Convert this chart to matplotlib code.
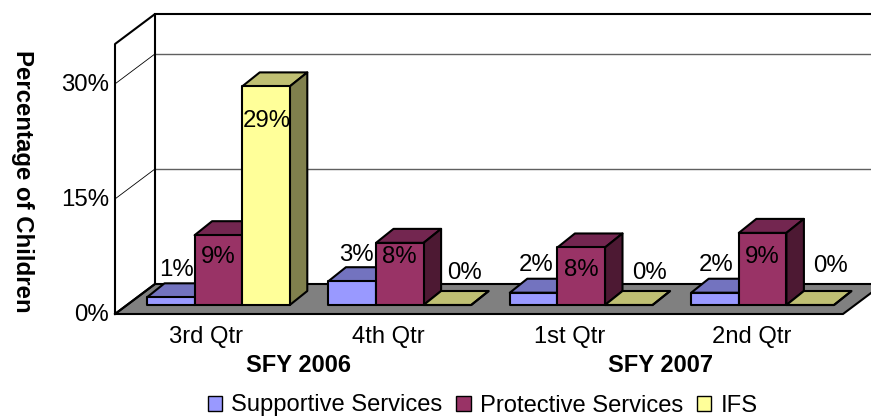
import matplotlib
matplotlib.use('Agg')
import matplotlib.pyplot as plt
from matplotlib.patches import Polygon, Patch

plt.rcParams['font.family'] = ['Liberation Sans', 'DejaVu Sans']

# Data
quarters = ['3rd Qtr', '4th Qtr', '1st Qtr', '2nd Qtr']
series = ['Supportive Services', 'Protective Services', 'IFS']
supportive = [1.0, 3.1, 1.6, 1.6]
protective = [9.1, 8.1, 7.5, 9.4]
ifs = [28.5, 0, 0, 0]
labels_sup = ['1%', '3%', '2%', '2%']
labels_pro = ['9%', '8%', '8%', '9%']
labels_ifs = ['29%', '0%', '0%', '0%']
yticks = [0, 15, 30]
years = ['SFY 2006', 'SFY 2007']

# label offsets from the middle of each bar's front top edge, in pixels
nudge_sup = [(6, 27), (4, 26), (3, 28), (1, 28)]
nudge_pro = [(0, -22), (0, -14), (0, -23), (0, -24)]
nudge_ifs = [(1, -35), (17, 32), (21, 32), (20, 39)]

colors = [('#9999FF', '#7373BF', '#4D4D80'),
          ('#993366', '#732650', '#4D1933'),
          ('#FFFF99', '#BFBF73', '#80804D')]

# pixel scale of the fake 3d box
W, H = 871, 416
PX_X = 182.0      # pixels per category
PX_Y = 7.67       # pixels per percent
X0, Y0 = 115, 314 # front left corner of the floor
DX, DY = 40 / PX_X, 30 / PX_Y  # depth of the box
TOP = 35.2

fig = plt.figure(figsize=(W / 100, H / 100), dpi=100)
ax = fig.add_axes([0, 0, 1, 1])
ax.set_xlim(-X0 / PX_X, (W - X0) / PX_X)
ax.set_ylim((Y0 - H) / PX_Y, Y0 / PX_Y)
ax.axis('off')

LW = 1.5
EC = 'black'
FS = 17.3

# floor
ax.add_patch(Polygon([(0, 0), (DX, DY), (4 + DX, DY), (4, 0)], closed=True,
                     fc='#808080', ec=EC, lw=LW, zorder=1))
# walls
ax.plot([0, 0, DX, DX, 0], [0, TOP, TOP + DY, DY, 0], color=EC, lw=LW, zorder=2)
ax.plot([DX, 4.5], [TOP + DY, TOP + DY], color=EC, lw=LW, zorder=2)
for t in yticks[1:]:
    ax.plot([DX, 4.5], [t + DY, t + DY], color='#606060', lw=1.0, zorder=1.5)
    ax.plot([0, DX], [t, t + DY], color=EC, lw=0.6, zorder=1.5)
for t in yticks:
    ax.text(-6 / PX_X, t - 0.2 if t else -0.1, '%d%%' % t, ha='right', va='center', fontsize=FS)

# bars
bar_w = 47.6 / PX_X
bar_dx, bar_dy = 17.5 / PX_X, 14 / PX_Y
shift_x, base = 32 / PX_X, 9 / PX_Y
values = [supportive, protective, ifs]
texts = [labels_sup, labels_pro, labels_ifs]
nudges = [nudge_sup, nudge_pro, nudge_ifs]
z = 3
for q in range(len(quarters)):
    for s in range(3):
        left = q * 181.4 / PX_X + shift_x + s * bar_w
        right = left + bar_w
        top = base + values[s][q]
        front, lid, side = colors[s]
        ax.add_patch(Polygon([(left, top), (left + bar_dx, top + bar_dy),
                              (right + bar_dx, top + bar_dy), (right, top)],
                             closed=True, fc=lid, ec=EC, lw=LW, zorder=z, joinstyle='round'))
        ax.add_patch(Polygon([(right, base), (right + bar_dx, base + bar_dy),
                              (right + bar_dx, top + bar_dy), (right, top)],
                             closed=True, fc=side, ec=EC, lw=LW, zorder=z, joinstyle='round'))
        ax.add_patch(Polygon([(left, base), (left, top), (right, top), (right, base)],
                             closed=True, fc=front, ec=EC, lw=LW, zorder=z, joinstyle='round'))
        z += 1
for q in range(len(quarters)):
    for s in range(3):
        left = q * 181.4 / PX_X + shift_x + s * bar_w
        ax.annotate(texts[s][q], (left + bar_w / 2, base + values[s][q]),
                    xytext=(nudges[s][q][0] * 0.72, nudges[s][q][1] * 0.72),
                    textcoords='offset points', ha='center', va='center',
                    fontsize=FS, zorder=50)

# category and year labels
for q, name in enumerate(quarters):
    ax.text(q + 0.5, -22.5 / PX_Y, name, ha='center', va='center', fontsize=FS - 0.2)
ax.text(1.01, -52 / PX_Y, years[0], ha='center', va='center', fontsize=FS - 0.3, fontweight='bold')
ax.text(2.995, -52 / PX_Y, years[1], ha='center', va='center', fontsize=FS - 0.3, fontweight='bold')

ax.text(-93 / PX_X, 133 / PX_Y, 'Percentage of Children', rotation=-90, ha='center', va='center',
        fontsize=FS, fontweight='bold')

handles = [Patch(fc=colors[i][0], ec=EC, lw=1.0) for i in range(3)]
fig.legend(handles, series, ncol=3, loc='center', bbox_to_anchor=(482.5 / W, 1 - 405.5 / H),
           frameon=False, fontsize=17.1, handlelength=0.6, handleheight=0.6,
           handletextpad=0.38, columnspacing=0.6, borderpad=0)

fig.savefig('out.png', dpi=100)
